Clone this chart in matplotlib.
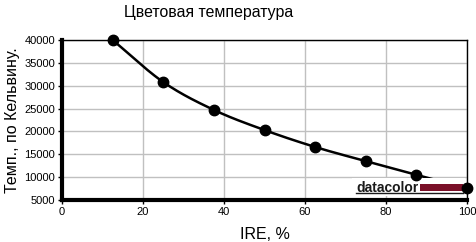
import numpy as np
import matplotlib.pyplot as plt
from matplotlib.patches import Rectangle

plt.rcParams['font.family'] = ['Liberation Sans', 'DejaVu Sans']

ire = [12.5, 25, 37.5, 50, 62.5, 75, 87.5, 100]
temp_k = [40000, 30800, 24700, 20300, 16600, 13500, 10500, 7600]

title = 'Цветовая температура'
xlabel = 'IRE, %'
ylabel = 'Темп., по Кельвину.'


def catmull_rom(x, y, n=30):
    # smooth line through the points (display only)
    x = np.asarray(x, float)
    y = np.asarray(y, float)
    px = np.concatenate([[2 * x[0] - x[1]], x, [2 * x[-1] - x[-2]]])
    py = np.concatenate([[2 * y[0] - y[1]], y, [2 * y[-1] - y[-2]]])
    xs, ys = [], []
    t = np.linspace(0, 1, n)
    for i in range(1, len(px) - 2):
        for p, out in ((px, xs), (py, ys)):
            p0, p1, p2, p3 = p[i - 1], p[i], p[i + 1], p[i + 2]
            out.append(0.5 * (2 * p1 + (-p0 + p2) * t
                              + (2 * p0 - 5 * p1 + 4 * p2 - p3) * t ** 2
                              + (-p0 + 3 * p1 - 3 * p2 + p3) * t ** 3))
    return np.concatenate(xs), np.concatenate(ys)


fig = plt.figure(figsize=(4.77, 2.42), dpi=100)
ax = fig.add_axes([62 / 477, 1 - 200 / 242, 405 / 477, 160 / 242])

ax.set_xlim(0, 100)
ax.set_ylim(5000, 40000)
ax.set_xticks(np.arange(0, 101, 20))
ax.set_yticks(np.arange(5000, 40001, 5000))
ax.grid(True, color='#c0c0c0', linewidth=1)
ax.set_axisbelow(True)

for s in ('top', 'right'):
    ax.spines[s].set_linewidth(1)
for s in ('left', 'bottom'):
    ax.spines[s].set_linewidth(3)
ax.tick_params(labelsize=8, length=3, width=1, pad=2, colors='black')

sx, sy = catmull_rom(ire, temp_k)
ax.plot(sx, sy, color='black', linewidth=1.8, zorder=3, clip_on=False)

# datacolor logo box
ax.add_patch(Rectangle((71.5, 5900), 28, 4000, facecolor='white',
                       edgecolor='none', zorder=4))
ax.text(72.6, 7650, 'datacolor', fontsize=10, fontweight='bold',
        color='#1a1a1a', va='center', ha='left', zorder=5)
ax.add_patch(Rectangle((88.4, 6970), 10.6, 1550, facecolor='#7a1028',
                       edgecolor='none', zorder=5))
ax.plot([72.6, 99.0], [6550, 6550], color='#1a1a1a', linewidth=1, zorder=5)

ax.plot(ire, temp_k, 'o', color='black', markersize=7.5, zorder=6,
        clip_on=False)

fig.text(209 / 477, 1 - 13 / 242, title, fontsize=11.4, ha='center',
         va='center')
ax.set_xlabel(xlabel, fontsize=11.5, labelpad=7)
ax.set_ylabel(ylabel, fontsize=11.5, labelpad=3)

fig.savefig('out.png', dpi=100)
